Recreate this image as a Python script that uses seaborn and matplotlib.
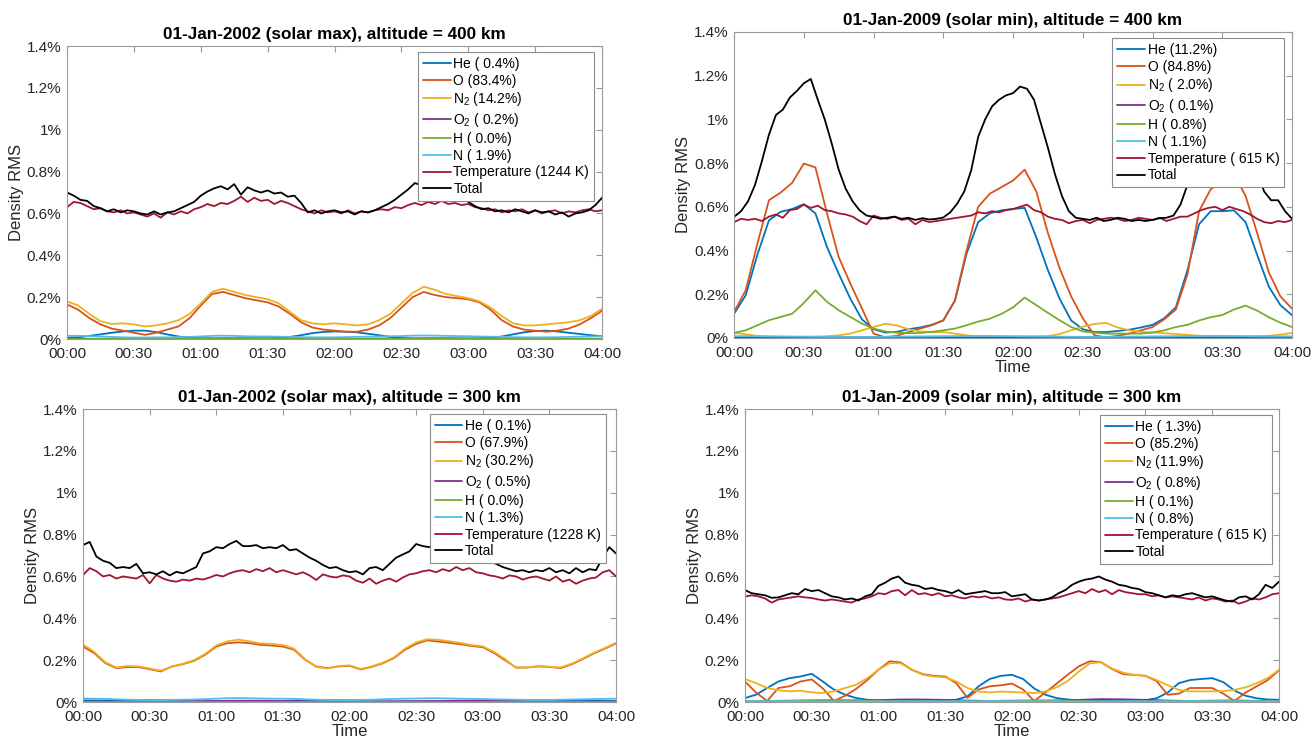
import matplotlib
matplotlib.use("Agg")
import matplotlib.pyplot as plt
import seaborn as sns
from matplotlib.ticker import FixedLocator, FixedFormatter

# ---------------- time grids (minutes after 00:00) ----------------
t5 = list(range(0, 241, 5))     # smooth species
t3 = list(range(0, 241, 3))     # noisy Temperature / Total
t10 = list(range(0, 241, 10))   # near-zero species

x_ticks = [0, 30, 60, 90, 120, 150, 180, 210, 240]
x_tick_labels = ["00:00", "00:30", "01:00", "01:30", "02:00", "02:30", "03:00", "03:30", "04:00"]
y_ticks = [0, 0.2, 0.4, 0.6, 0.8, 1.0, 1.2, 1.4]
y_tick_labels = ["0%", "0.2%", "0.4%", "0.6%", "0.8%", "1%", "1.2%", "1.4%"]

species = ["He", "O", "N$_2$", "O$_2$", "H", "N", "Temperature", "Total"]

# ---------------- 01-Jan-2002, 400 km ----------------
tl_title = "01-Jan-2002 (solar max), altitude = 400 km"
tl_legend = ["( 0.4%)", "(83.4%)", "(14.2%)", "( 0.2%)", "( 0.0%)", "( 1.9%)", "(1244 K)", ""]
tl_he = [0.005,0.008,0.015,0.022,0.03,0.036,0.04,0.04,0.033,0.022,0.012,0.006,0.003,0.002,0.002,0.002,0.002,0.003,0.003,
         0.005,0.01,0.018,0.028,0.034,0.036,0.035,0.032,0.025,0.018,0.01,0.004,0.002,0.002,0.002,0.002,0.002,0.002,
         0.003,0.006,0.012,0.022,0.032,0.038,0.04,0.036,0.03,0.024,0.018,0.013]
tl_o = [0.165,0.14,0.10,0.07,0.05,0.04,0.03,0.02,0.03,0.045,0.06,0.10,0.16,0.215,0.225,0.21,0.195,0.185,0.175,
        0.155,0.12,0.08,0.055,0.045,0.04,0.035,0.035,0.045,0.065,0.10,0.15,0.20,0.225,0.21,0.20,0.195,0.19,
        0.175,0.14,0.09,0.06,0.045,0.04,0.035,0.04,0.05,0.07,0.10,0.135]
tl_n2 = [0.18,0.16,0.12,0.085,0.072,0.075,0.07,0.06,0.065,0.075,0.09,0.12,0.17,0.225,0.24,0.225,0.21,0.2,0.19,
         0.17,0.13,0.09,0.075,0.07,0.075,0.07,0.065,0.07,0.09,0.12,0.17,0.22,0.25,0.235,0.215,0.205,0.195,
         0.18,0.15,0.11,0.075,0.065,0.065,0.07,0.075,0.08,0.09,0.11,0.145]
tl_o2 = [0.001,0.001,0.001,0.002,0.002,0.002,0.002,0.003,0.003,0.002,0.002,0.001,0.001,0.001,0.002,0.002,0.003,
         0.003,0.002,0.002,0.002,0.001,0.001,0.001,0.001]
tl_h = [0.0005,0.0005,0.0005,0.0005,0.0005,0.0005,0.0005,0.0005,0.0005,0.0005,0.0005,0.0005,0.0005,0.0005,
        0.0005,0.0005,0.0005,0.0005,0.0005,0.0005,0.0005,0.0005,0.0005,0.0005,0.0005]
tl_n = [0.015,0.015,0.014,0.012,0.01,0.008,0.007,0.007,0.008,0.008,0.009,0.01,0.012,0.015,0.016,0.015,0.013,0.012,
        0.012,0.011,0.01,0.009,0.008,0.008,0.008,0.009,0.01,0.011,0.012,0.013,0.014,0.016,0.017,0.016,0.015,0.014,
        0.013,0.012,0.011,0.01,0.009,0.008,0.008,0.008,0.009,0.01,0.011,0.012,0.013]
tl_temp = [0.63,0.655,0.65,0.635,0.62,0.625,0.61,0.605,0.615,0.60,0.605,0.595,0.585,0.60,0.58,0.605,0.595,0.61,0.60,0.62,
           0.63,0.645,0.635,0.65,0.645,0.66,0.68,0.655,0.675,0.66,0.665,0.645,0.66,0.65,0.635,0.62,0.61,0.60,0.615,0.605,
           0.61,0.60,0.615,0.60,0.61,0.605,0.615,0.62,0.615,0.63,0.625,0.64,0.65,0.64,0.655,0.645,0.66,0.645,0.65,0.64,
           0.645,0.63,0.625,0.615,0.62,0.605,0.615,0.61,0.62,0.605,0.615,0.60,0.61,0.615,0.60,0.61,0.605,0.615,0.62,0.61,0.615]
tl_total = [0.70,0.685,0.665,0.66,0.635,0.625,0.61,0.62,0.605,0.615,0.61,0.60,0.595,0.61,0.595,0.605,0.61,0.625,0.64,0.655,
            0.685,0.705,0.72,0.73,0.715,0.74,0.69,0.725,0.71,0.70,0.71,0.695,0.70,0.68,0.685,0.65,0.605,0.615,0.60,0.61,
            0.615,0.605,0.61,0.595,0.61,0.605,0.615,0.63,0.645,0.665,0.69,0.715,0.745,0.735,0.72,0.725,0.71,0.705,0.69,0.675,
            0.655,0.635,0.62,0.625,0.61,0.615,0.605,0.62,0.61,0.60,0.615,0.605,0.61,0.595,0.605,0.585,0.60,0.605,0.615,0.64,0.675]

# ---------------- 01-Jan-2009, 400 km ----------------
tr_title = "01-Jan-2009 (solar min), altitude = 400 km"
tr_legend = ["(11.2%)", "(84.8%)", "( 2.0%)", "( 0.1%)", "( 0.8%)", "( 1.1%)", "( 615 K)", ""]
tr_he = [0.111,0.195,0.38,0.538,0.577,0.59,0.612,0.57,0.415,0.294,0.18,0.085,0.04,0.025,0.028,0.04,0.048,0.06,0.08,
         0.17,0.386,0.53,0.57,0.584,0.59,0.595,0.46,0.31,0.18,0.08,0.04,0.027,0.027,0.032,0.038,0.048,0.06,
         0.09,0.14,0.31,0.52,0.58,0.58,0.584,0.53,0.38,0.235,0.15,0.104]
tr_o = [0.119,0.218,0.43,0.63,0.665,0.71,0.798,0.78,0.569,0.37,0.249,0.135,0.02,0.003,0.01,0.027,0.043,0.058,0.081,
        0.172,0.40,0.60,0.66,0.69,0.72,0.77,0.67,0.48,0.32,0.19,0.09,0.012,0.003,0.01,0.02,0.035,0.05,
        0.085,0.13,0.29,0.58,0.68,0.72,0.75,0.65,0.48,0.30,0.19,0.134]
tr_n2 = [0.023,0.017,0.009,0.006,0.005,0.005,0.005,0.006,0.008,0.012,0.02,0.035,0.05,0.065,0.057,0.04,0.03,0.027,0.027,
         0.02,0.012,0.008,0.007,0.006,0.006,0.006,0.007,0.008,0.018,0.035,0.052,0.064,0.069,0.048,0.035,0.028,0.025,
         0.022,0.018,0.014,0.01,0.008,0.007,0.007,0.007,0.008,0.01,0.015,0.023]
tr_o2 = [0.002,0.002,0.001,0.001,0.001,0.001,0.001,0.001,0.001,0.002,0.002,0.002,0.001,0.001,0.001,0.001,0.001,
         0.001,0.002,0.002,0.002,0.001,0.001,0.001,0.001]
tr_h = [0.023,0.035,0.058,0.081,0.096,0.111,0.16,0.218,0.165,0.127,0.096,0.066,0.043,0.03,0.024,0.022,0.023,0.028,0.035,
        0.043,0.058,0.075,0.088,0.11,0.14,0.185,0.15,0.115,0.081,0.05,0.03,0.024,0.02,0.02,0.02,0.02,0.025,
        0.035,0.05,0.06,0.08,0.095,0.105,0.13,0.148,0.125,0.095,0.07,0.05]
tr_n = [0.008,0.008,0.007,0.006,0.005,0.005,0.005,0.006,0.007,0.008,0.009,0.009,0.008,0.007,0.006,0.005,0.005,
        0.006,0.007,0.008,0.009,0.009,0.008,0.007,0.007]
tr_temp = [0.53,0.545,0.54,0.545,0.535,0.555,0.565,0.55,0.585,0.59,0.61,0.595,0.605,0.585,0.58,0.57,0.565,0.555,0.535,0.52,
           0.56,0.55,0.545,0.555,0.54,0.545,0.52,0.54,0.53,0.535,0.54,0.545,0.55,0.555,0.56,0.575,0.57,0.58,0.575,0.585,
           0.59,0.60,0.61,0.585,0.575,0.555,0.545,0.54,0.525,0.535,0.54,0.525,0.54,0.545,0.55,0.545,0.535,0.54,0.55,0.545,
           0.54,0.55,0.535,0.545,0.555,0.555,0.57,0.585,0.595,0.60,0.585,0.60,0.59,0.58,0.565,0.545,0.53,0.525,0.535,0.53,0.54]
tr_total = [0.554,0.58,0.625,0.70,0.81,0.93,1.02,1.045,1.10,1.13,1.165,1.185,1.09,1.0,0.89,0.77,0.683,0.625,0.584,0.56,
            0.554,0.545,0.55,0.555,0.545,0.55,0.54,0.548,0.542,0.545,0.551,0.575,0.615,0.67,0.767,0.92,1.0,1.06,1.09,1.11,
            1.12,1.15,1.14,1.09,0.98,0.87,0.75,0.65,0.58,0.55,0.545,0.54,0.55,0.535,0.54,0.55,0.545,0.535,0.54,0.535,
            0.54,0.548,0.55,0.56,0.61,0.70,0.82,0.95,1.03,1.07,1.09,1.10,1.08,1.0,0.88,0.76,0.67,0.63,0.63,0.58,0.545]

# ---------------- 01-Jan-2002, 300 km ----------------
bl_title = "01-Jan-2002 (solar max), altitude = 300 km"
bl_legend = ["( 0.1%)", "(67.9%)", "(30.2%)", "( 0.5%)", "( 0.0%)", "( 1.3%)", "(1228 K)", ""]
bl_he = [0.008,0.008,0.007,0.007,0.008,0.009,0.01,0.009,0.007,0.005,0.004,0.003,0.003,0.003,0.003,0.003,0.003,0.004,
         0.005,0.007,0.009,0.01,0.01,0.009,0.008,0.006,0.004,0.003,0.003,0.003,0.003,0.003,0.003,0.003,0.003,0.004,
         0.005,0.006,0.008,0.009,0.01,0.01,0.01,0.009,0.008,0.007,0.006,0.005,0.005]
bl_o = [0.265,0.234,0.186,0.162,0.167,0.167,0.157,0.146,0.17,0.181,0.197,0.226,0.265,0.281,0.285,0.281,0.273,0.27,0.265,
        0.25,0.202,0.17,0.162,0.17,0.173,0.156,0.168,0.185,0.21,0.25,0.278,0.295,0.289,0.283,0.276,0.268,0.262,
        0.235,0.2,0.165,0.165,0.17,0.168,0.162,0.18,0.205,0.232,0.255,0.28]
bl_n2 = [0.275,0.24,0.19,0.165,0.172,0.17,0.16,0.15,0.168,0.183,0.2,0.23,0.27,0.29,0.298,0.29,0.28,0.278,0.272,
         0.255,0.205,0.168,0.16,0.172,0.175,0.158,0.17,0.188,0.213,0.255,0.285,0.3,0.297,0.29,0.282,0.272,0.266,
         0.24,0.205,0.163,0.165,0.172,0.168,0.165,0.183,0.208,0.235,0.258,0.283]
bl_o2 = [0.002,0.002,0.002,0.002,0.003,0.004,0.005,0.006,0.006,0.005,0.003,0.002,0.002,0.002,0.003,0.004,0.005,
         0.006,0.006,0.005,0.003,0.002,0.002,0.002,0.002]
bl_h = [0.0008,0.0008,0.0008,0.0008,0.0008,0.0008,0.0008,0.0008,0.0008,0.0008,0.0008,0.0008,0.0008,0.0008,
        0.0008,0.0008,0.0008,0.0008,0.0008,0.0008,0.0008,0.0008,0.0008,0.0008,0.0008]
bl_n = [0.017,0.016,0.015,0.013,0.011,0.01,0.009,0.009,0.01,0.011,0.012,0.014,0.016,0.018,0.019,0.018,0.017,0.016,
        0.016,0.015,0.013,0.011,0.01,0.009,0.009,0.01,0.011,0.013,0.015,0.016,0.017,0.018,0.018,0.017,0.016,0.015,
        0.014,0.013,0.012,0.011,0.01,0.01,0.01,0.011,0.012,0.013,0.014,0.015,0.016]
bl_temp = [0.607,0.64,0.625,0.60,0.607,0.59,0.60,0.595,0.59,0.607,0.567,0.607,0.59,0.58,0.575,0.585,0.58,0.59,0.585,0.595,
           0.607,0.60,0.615,0.625,0.63,0.62,0.635,0.625,0.64,0.62,0.63,0.62,0.61,0.62,0.605,0.583,0.61,0.60,0.595,0.605,
           0.60,0.58,0.57,0.59,0.565,0.58,0.59,0.575,0.595,0.61,0.615,0.625,0.63,0.62,0.635,0.625,0.645,0.63,0.64,0.62,
           0.615,0.605,0.60,0.59,0.605,0.60,0.585,0.595,0.60,0.59,0.58,0.60,0.575,0.585,0.565,0.58,0.59,0.595,0.62,0.63,0.60]
bl_total = [0.75,0.765,0.695,0.675,0.665,0.64,0.645,0.64,0.66,0.615,0.62,0.61,0.625,0.605,0.622,0.615,0.63,0.645,0.71,0.72,
            0.74,0.735,0.755,0.77,0.745,0.745,0.75,0.735,0.74,0.735,0.75,0.725,0.73,0.71,0.69,0.675,0.655,0.64,0.645,0.63,
            0.62,0.625,0.61,0.64,0.645,0.63,0.66,0.69,0.705,0.72,0.755,0.745,0.74,0.755,0.75,0.745,0.735,0.73,0.715,0.70,
            0.69,0.675,0.66,0.645,0.635,0.625,0.63,0.62,0.63,0.625,0.64,0.62,0.63,0.615,0.64,0.62,0.635,0.63,0.69,0.74,0.71]

# ---------------- 01-Jan-2009, 300 km ----------------
br_title = "01-Jan-2009 (solar min), altitude = 300 km"
br_legend = ["( 1.3%)", "(85.2%)", "(11.9%)", "( 0.8%)", "( 0.1%)", "( 0.8%)", "( 615 K)", ""]
br_he = [0.019,0.035,0.067,0.098,0.114,0.122,0.135,0.098,0.059,0.035,0.019,0.011,0.007,0.006,0.006,0.006,0.006,0.006,
         0.007,0.011,0.027,0.075,0.11,0.125,0.13,0.11,0.065,0.035,0.019,0.012,0.008,0.006,0.006,0.006,0.006,0.007,
         0.009,0.018,0.045,0.09,0.105,0.11,0.114,0.095,0.055,0.03,0.018,0.012,0.011]
br_o = [0.098,0.045,0.005,0.067,0.075,0.098,0.108,0.065,0.005,0.03,0.063,0.105,0.154,0.195,0.189,0.154,0.133,0.125,0.122,
        0.09,0.02,0.06,0.075,0.08,0.088,0.06,0.005,0.045,0.087,0.13,0.17,0.195,0.19,0.158,0.133,0.13,0.125,
        0.1,0.035,0.04,0.067,0.067,0.067,0.04,0.005,0.045,0.075,0.105,0.151]
br_n2 = [0.11,0.09,0.067,0.056,0.051,0.054,0.046,0.043,0.051,0.067,0.083,0.114,0.154,0.186,0.185,0.154,0.13,0.122,0.118,
         0.098,0.067,0.05,0.046,0.05,0.048,0.045,0.043,0.05,0.07,0.1,0.145,0.185,0.19,0.16,0.14,0.13,0.125,
         0.105,0.08,0.058,0.051,0.051,0.051,0.052,0.058,0.07,0.09,0.115,0.154]
br_o2 = [0.003,0.003,0.004,0.005,0.006,0.007,0.009,0.012,0.012,0.01,0.007,0.005,0.004,0.005,0.007,0.01,0.014,
         0.013,0.01,0.007,0.005,0.004,0.004,0.005,0.006]
br_h = [0.003,0.005,0.007,0.009,0.01,0.008,0.005,0.003,0.002,0.002,0.003,0.005,0.007,0.008,0.007,0.005,0.003,
        0.002,0.002,0.003,0.005,0.007,0.008,0.006,0.004]
br_n = [0.004,0.004,0.004,0.003,0.003,0.003,0.003,0.004,0.004,0.004,0.004,0.004,0.004,0.003,0.003,0.003,0.003,
        0.004,0.004,0.004,0.004,0.004,0.004,0.004,0.004]
br_temp = [0.504,0.51,0.505,0.495,0.475,0.49,0.495,0.50,0.505,0.50,0.497,0.49,0.485,0.49,0.485,0.48,0.475,0.49,0.495,0.505,
           0.52,0.515,0.53,0.535,0.51,0.535,0.515,0.52,0.51,0.52,0.505,0.51,0.50,0.495,0.505,0.50,0.505,0.495,0.50,0.49,
           0.488,0.495,0.48,0.49,0.485,0.49,0.495,0.50,0.51,0.52,0.53,0.52,0.54,0.525,0.535,0.515,0.535,0.525,0.52,0.515,
           0.515,0.505,0.51,0.50,0.505,0.50,0.495,0.49,0.50,0.485,0.495,0.49,0.48,0.485,0.47,0.48,0.495,0.49,0.50,0.515,0.52]
br_total = [0.535,0.52,0.515,0.51,0.498,0.50,0.51,0.52,0.515,0.54,0.53,0.535,0.52,0.505,0.50,0.49,0.495,0.485,0.505,0.515,
            0.555,0.57,0.59,0.60,0.57,0.56,0.555,0.54,0.545,0.535,0.53,0.52,0.535,0.515,0.52,0.525,0.53,0.52,0.52,0.525,
            0.505,0.51,0.515,0.49,0.485,0.49,0.50,0.52,0.535,0.56,0.575,0.585,0.59,0.60,0.585,0.575,0.56,0.555,0.545,0.54,
            0.525,0.52,0.51,0.50,0.51,0.505,0.515,0.52,0.51,0.50,0.505,0.495,0.485,0.48,0.50,0.505,0.49,0.515,0.56,0.545,0.575]

# ---------------- styling ----------------
colors = ["#0072BD", "#D95319", "#EDB120", "#7E2F8E", "#77AC30", "#4DBEEE", "#A2142F", "#000000"]

sns.set_style("white")
plt.rcParams["font.family"] = ["Liberation Sans", "DejaVu Sans"]
plt.rcParams["mathtext.fontset"] = "custom"
plt.rcParams["mathtext.rm"] = "Liberation Sans"
plt.rcParams["mathtext.it"] = "Liberation Sans"
plt.rcParams["mathtext.default"] = "regular"

fig = plt.figure(figsize=(13.12, 7.41), dpi=100)
fig.patch.set_facecolor("white")

# time grid used by each of the 8 series, per panel
tl_grids = [t5, t5, t5, t10, t10, t5, t3, t3]
tr_grids = [t5, t5, t5, t10, t5, t10, t3, t3]
bl_grids = [t5, t5, t5, t10, t10, t5, t3, t3]
br_grids = [t5, t5, t5, t10, t10, t10, t3, t3]

panels = [
    ([0.0511, 0.5425, 0.4078, 0.3954], tl_title, tl_legend,
     [tl_he, tl_o, tl_n2, tl_o2, tl_h, tl_n, tl_temp, tl_total], tl_grids, False, (0.985, 0.98)),
    ([0.5595, 0.5439, 0.4253, 0.4130], tr_title, tr_legend,
     [tr_he, tr_o, tr_n2, tr_o2, tr_h, tr_n, tr_temp, tr_total], tr_grids, True, (0.986, 0.98)),
    ([0.0633, 0.0526, 0.4062, 0.3954], bl_title, bl_legend,
     [bl_he, bl_o, bl_n2, bl_o2, bl_h, bl_n, bl_temp, bl_total], bl_grids, True, (0.981, 0.983)),
    ([0.5678, 0.0526, 0.4070, 0.3954], br_title, br_legend,
     [br_he, br_o, br_n2, br_o2, br_h, br_n, br_temp, br_total], br_grids, True, (0.987, 0.98)),
]
spine_c = "#9a9a9a"
text_c = "#262626"

for rect, title, leg, series, grids, show_xlabel, anchor in panels:
    ax = fig.add_axes(rect)
    for i, (vals, tgrid) in enumerate(zip(series, grids)):
        lbl = species[i] + (" " + leg[i] if leg[i] else "")
        sns.lineplot(x=tgrid, y=vals, ax=ax, color=colors[i], linewidth=1.3,
                     label=lbl, estimator=None, sort=False)
    ax.set_xlim(0, 240)
    ax.set_ylim(0, 1.4)
    ax.xaxis.set_major_locator(FixedLocator(x_ticks))
    ax.xaxis.set_major_formatter(FixedFormatter(x_tick_labels))
    ax.yaxis.set_major_locator(FixedLocator(y_ticks))
    ax.yaxis.set_major_formatter(FixedFormatter(y_tick_labels))
    ax.tick_params(axis="both", direction="in", length=4, width=0.8, color=spine_c,
                   labelsize=11, labelcolor=text_c, top=True, right=True)
    ax.tick_params(axis="x", pad=6)
    ax.tick_params(axis="y", pad=4)
    for s in ax.spines.values():
        s.set_visible(True)
        s.set_color(spine_c)
        s.set_linewidth(0.8)
    ax.set_title(title, fontsize=12.3, fontweight="bold", color="#000000", pad=5)
    ax.set_ylabel("Density RMS", fontsize=12, color=text_c, labelpad=2)
    if show_xlabel:
        ax.set_xlabel("Time", fontsize=12, color=text_c, labelpad=0)
    else:
        ax.set_xlabel("")
    lg = ax.legend(loc="upper right", bbox_to_anchor=anchor, borderaxespad=0,
                   fontsize=10, frameon=True, fancybox=False, framealpha=1,
                   edgecolor="#8c8c8c", labelspacing=0.2, handlelength=2.0,
                   handletextpad=0.2, borderpad=0.35)
    lg.get_frame().set_linewidth(0.8)
    for txt in lg.get_texts():
        txt.set_color("#000000")

fig.savefig("out.png", dpi=100, facecolor="white")
